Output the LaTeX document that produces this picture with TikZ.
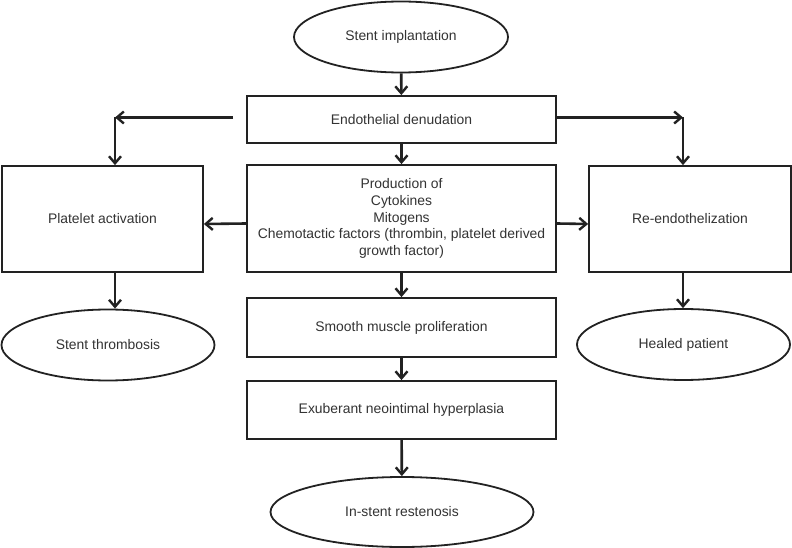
\documentclass[tikz,border=0pt]{standalone}
\usepackage{fontspec}
\setmainfont{Liberation Sans}
\usetikzlibrary{shapes.geometric,arrows.meta,positioning,calc}
\definecolor{flowline}{RGB}{34,34,34}
\definecolor{flowtext}{RGB}{51,51,51}

\begin{document}
\begin{tikzpicture}[
    x=1pt, y=-1pt,
    every node/.style={font=\fontsize{13.9}{16.6}\selectfont, text=flowtext},
    box/.style={draw=flowline, line width=1.8pt, fill=white, align=center, inner sep=0pt},
    oval/.style={draw=flowline, line width=1.8pt, ellipse, fill=white, inner sep=0pt, minimum height=71pt},
    arrow/.style={line width=2.6pt, draw=flowline, -{Straight Barb[length=7pt, width=12pt, line width=2.4pt]}}
]
\useasboundingbox (0,0) rectangle (792,548);

% Main column
\node[oval, minimum width=214pt] (implant) at (401,37) {Stent implantation};
\node[box, minimum width=309pt, minimum height=47pt] (denud) at (401.5,119.5) {Endothelial denudation};
\node[box, minimum width=309pt, minimum height=107pt] (prod) at (401.5,218.5)
    {Production of\\Cytokines\\Mitogens\\Chemotactic factors (thrombin, platelet derived\\growth factor)};
\node[box, minimum width=309pt, minimum height=59pt] (smooth) at (401.5,327.5) {Smooth muscle proliferation};
\node[box, minimum width=309pt, minimum height=58pt] (exub) at (401.5,410) {Exuberant neointimal hyperplasia};
\node[oval, minimum width=263pt, minimum height=70pt] (resten) at (402,512) {In-stent restenosis};

% Side branches
\node[box, minimum width=201pt, minimum height=106pt] (platelet) at (102.5,219) {Platelet activation};
\node[box, minimum width=202pt, minimum height=106pt] (reendo) at (690,219) {Re-endothelization};
\node[oval, minimum width=213pt] (thromb) at (108,345) {Stent thrombosis};
\node[oval, minimum width=213pt] (healed) at (683.5,344.5) {Healed patient};

% Corners of the branch lines
\coordinate (lstart) at (233,117.5);
\coordinate (lcorner) at (115,117.5);
\coordinate (rcorner) at (683,117.5);

% Connect with arrows
\draw[arrow] (implant) -- (denud);
\draw[arrow] (denud) -- (prod);
\draw[arrow] (prod) -- (smooth);
\draw[arrow] (smooth) -- (exub);
\draw[arrow] (exub) -- (resten);

\draw[arrow] (lstart) -- (lcorner);
\draw[arrow] (lcorner) -- (lcorner |- platelet.north);
\draw[arrow] (denud.east |- rcorner) -- (rcorner);
\draw[arrow] (rcorner) -- (rcorner |- reendo.north);

\draw[arrow] ([yshift=-5pt]prod.west) -- ([yshift=-5pt]platelet.east);
\draw[arrow] ([yshift=-5pt]prod.east) -- ([yshift=-5pt]reendo.west);

\draw[arrow] (lcorner |- platelet.south) -- (lcorner |- thromb.north);
\draw[arrow] (rcorner |- reendo.south) -- (rcorner |- healed.north);

\end{tikzpicture}
\end{document}
